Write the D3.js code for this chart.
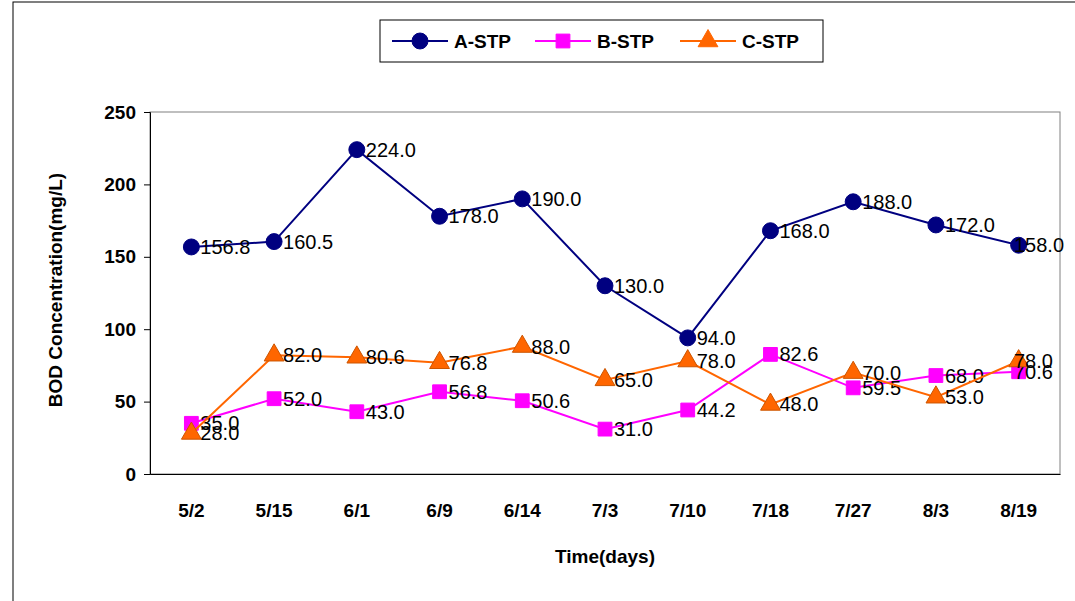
<!DOCTYPE html>
<html><head><meta charset="utf-8">
<script src="https://cdn.jsdelivr.net/npm/d3@7"></script>
<style>body{margin:0;background:#fff}</style></head>
<body><svg id="c" width="1075" height="601"></svg>
<script>
const categories=["5/2","5/15","6/1","6/9","6/14","7/3","7/10","7/18","7/27","8/3","8/19"];
const seriesA=[156.8,160.5,224.0,178.0,190.0,130.0,94.0,168.0,188.0,172.0,158.0];
const seriesB=[35.0,52.0,43.0,56.8,50.6,31.0,44.2,82.6,59.5,68.0,70.6];
const seriesC=[28.0,82.0,80.6,76.8,88.0,65.0,78.0,48.0,70.0,53.0,78.0];
const yTicks=[0,50,100,150,200,250];
const names=["A-STP","B-STP","C-STP"];
const svg=d3.select("#c");
const L=150,R=1060,T=112,B=474;
const F="Arial, Liberation Sans";
svg.append("rect").attr("x",13).attr("y",2).attr("width",1070).attr("height",620).attr("fill","none").attr("stroke","#000").attr("stroke-width",1);
const x=d3.scaleBand().domain(categories).range([L,R]);
const y=d3.scaleLinear().domain([0,250]).range([B,T]);
svg.append("rect").attr("x",L).attr("y",T).attr("width",R-L).attr("height",B-T).attr("fill","none").attr("stroke","#808080");
const ya=svg.append("g").attr("transform",`translate(${L},0)`).call(d3.axisLeft(y).tickValues(yTicks).tickSize(6).tickPadding(8));
const xa=svg.append("g").attr("transform",`translate(0,${B})`).call(d3.axisBottom(x).tickSize(0).tickPadding(30));
[ya,xa].forEach(a=>{a.select(".domain").attr("stroke","#000");a.selectAll("line").attr("stroke","#000");a.selectAll("text").attr("font-family",F).attr("font-weight","bold").attr("font-size",19).attr("fill","#000");});
svg.append("text").attr("x",605).attr("y",563).attr("text-anchor","middle").attr("font-family",F).attr("font-weight","bold").attr("font-size",19).text("Time(days)");
svg.append("text").attr("transform","translate(62,290) rotate(-90)").attr("text-anchor","middle").attr("font-family",F).attr("font-weight","bold").attr("font-size",19).text("BOD Concentration(mg/L)");
const cx=c=>x(c)+x.bandwidth()/2;
const cfg=[{d:seriesA,line:"#000080",fill:"#000080",sym:d3.symbolCircle,size:200},
{d:seriesB,line:"#FF00FF",fill:"#FF00FF",sym:d3.symbolSquare,size:190},
{d:seriesC,line:"#FF6600",fill:"#FF6600",sym:d3.symbolTriangle,size:170}];
cfg.forEach(s=>{
 svg.append("path").datum(s.d).attr("fill","none").attr("stroke",s.line).attr("stroke-width",2)
  .attr("d",d3.line().x((d,i)=>cx(categories[i])).y(d=>y(d)));
 svg.selectAll(null).data(s.d).enter().append("path").attr("d",d3.symbol().type(s.sym).size(s.size))
  .attr("transform",(d,i)=>`translate(${cx(categories[i])},${y(d)})`).attr("fill",s.fill).attr("stroke",s.line==="#FF6600"?"#cc5500":s.line);
 svg.selectAll(null).data(s.d).enter().append("text").attr("x",(d,i)=>Math.min(cx(categories[i])+9,1014)).attr("y",d=>y(d)+7)
  .attr("font-family",F).attr("font-size",20).attr("fill","#000").text(d=>d.toFixed(1));
});
const lg=svg.append("g");
lg.append("rect").attr("x",380).attr("y",20).attr("width",443).attr("height",42).attr("fill","#fff").attr("stroke","#000");
const lx=[392,535,680];
cfg.forEach((s,i)=>{
 lg.append("line").attr("x1",lx[i]).attr("x2",lx[i]+56).attr("y1",41).attr("y2",41).attr("stroke",s.line).attr("stroke-width",2);
 lg.append("path").attr("d",d3.symbol().type(s.sym).size(s.size)).attr("transform",`translate(${lx[i]+28},41)`).attr("fill",s.fill).attr("stroke",s.line);
 lg.append("text").attr("x",lx[i]+62).attr("y",48).attr("font-family",F).attr("font-weight","bold").attr("font-size",19).text(names[i]);
});
</script></body></html>
